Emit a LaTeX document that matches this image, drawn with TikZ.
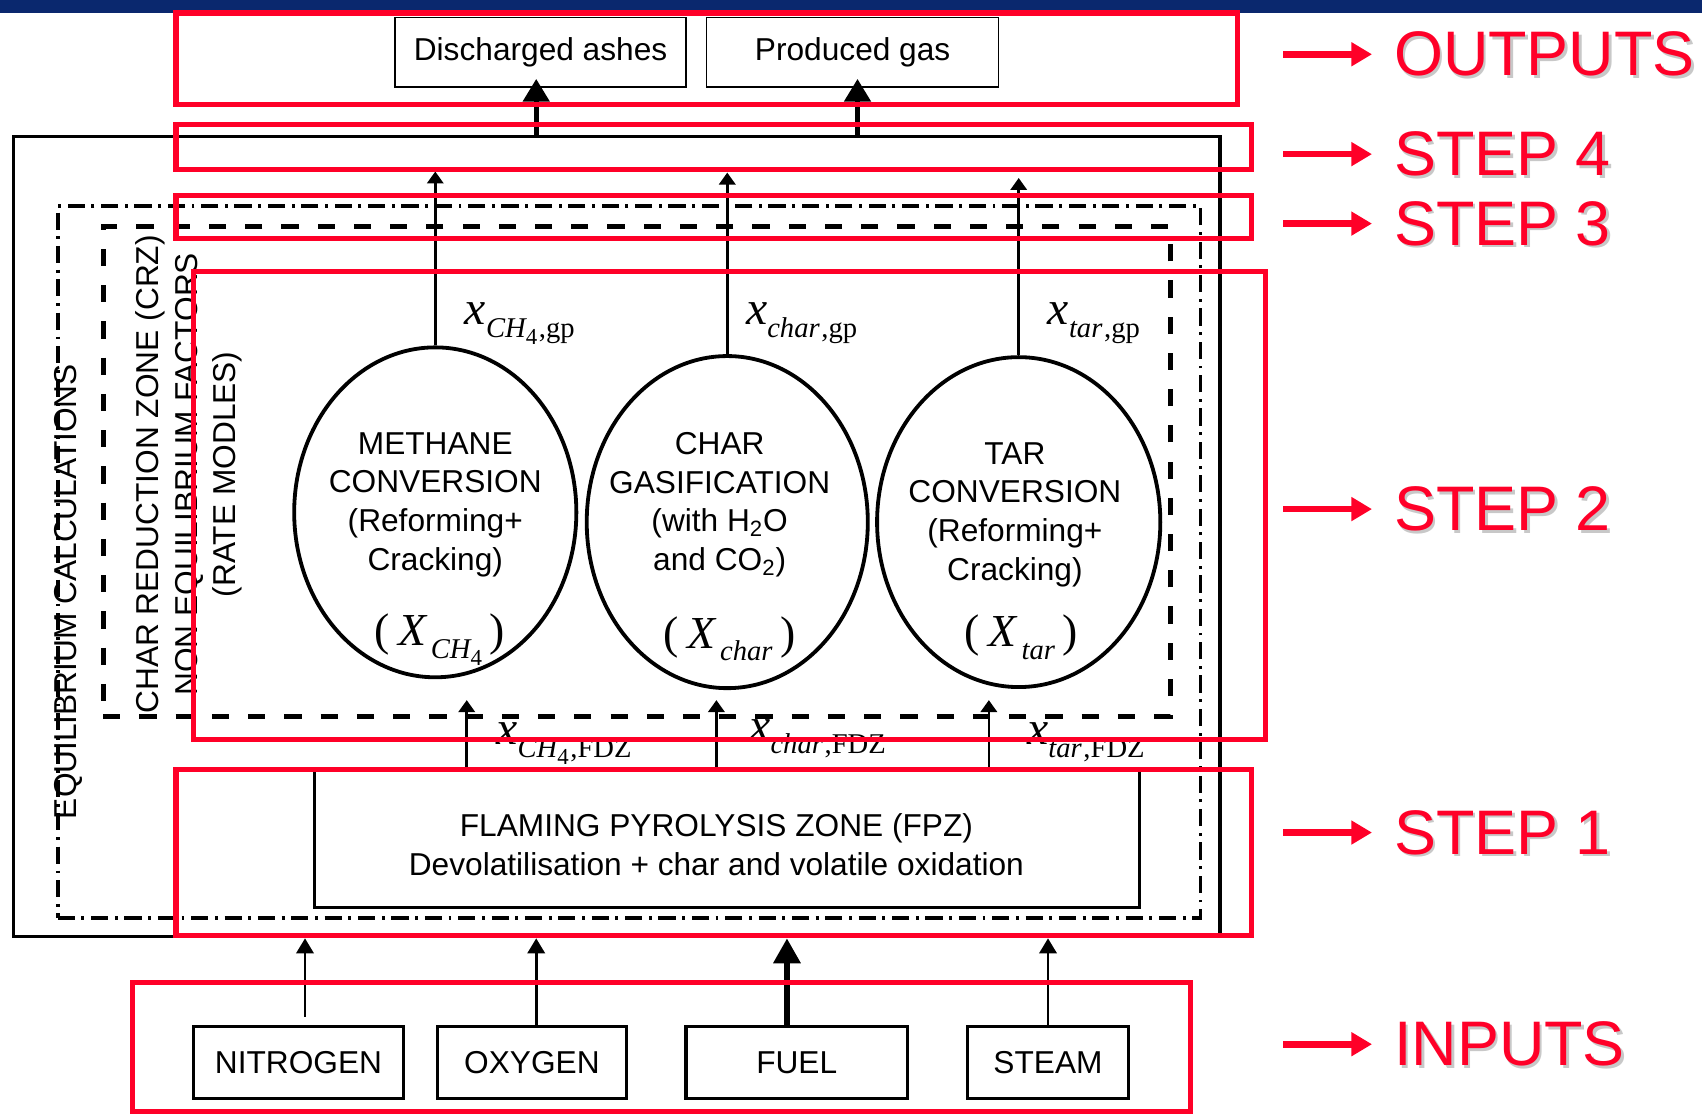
\documentclass[tikz,border=0pt]{standalone}
\usepackage{fontspec}
\setmainfont{Liberation Sans}
\newfontfamily\tms{Liberation Serif}
\usetikzlibrary{arrows.meta}
\usetikzlibrary{shapes.geometric}

\definecolor{slidered}{RGB}{255,0,40}
\definecolor{slidenavy}{RGB}{10,40,110}
\definecolor{shadowgray}{RGB}{200,200,200}

% subscripts of the flow variables (equation editor look)
\newcommand{\flowsub}[1]{\raisebox{-0.23cm}{\fontsize{15}{16}\selectfont #1}}
\newcommand{\subfour}{\raisebox{-0.13cm}{\fontsize{12}{13}\selectfont\upshape 4}}
\newcommand{\flowvar}[2]{{\tms\fontsize{25}{26}\selectfont\textit{x}\flowsub{\textit{#1}\hspace{0.03cm},#2}}}
\newcommand{\convvar}[1]{{\tms\fontsize{24}{25}\selectfont(\hspace{0.16cm}\textit{X}\hspace{0.06cm}\flowsub{\textit{#1}}\hspace{0.14cm})}}

\begin{document}
\begin{tikzpicture}[x=0.02cm, y=-0.02cm,
  txt/.style={font=\fontsize{16.6}{20.3}\selectfont},
  zone/.style={draw, line width=1.7pt, inner sep=0pt},
  reactor/.style={ellipse, draw, line width=2pt, inner sep=0pt},
  inbox/.style={draw, line width=1.7pt, inner sep=0pt, minimum height=1.32cm, txt},
  outbox/.style={draw, line width=0.8pt, inner sep=0pt, minimum height=1.28cm, txt},
  varlbl/.style={anchor=base west, inner sep=0pt},
  thinarr/.style={-{Triangle[length=0.28cm,width=0.32cm]}, line width=1.5pt},
  fatarr/.style={-{Triangle[length=0.46cm,width=0.48cm]}, line width=3.2pt},
  uparr/.style={-{Triangle[length=0.42cm,width=0.48cm]}, line width=2.6pt, shorten >=-0.16cm},
  flowarr/.style={-{Triangle[length=0.22cm,width=0.3cm]}, line width=1.4pt},
  redframe/.style={draw=slidered, line width=2.8pt},
  steparr/.style={-{Triangle[length=0.38cm,width=0.42cm]}, line width=3.5pt, slidered},
  steplbl/.style={anchor=west, inner xsep=0.4cm, inner ysep=0pt, font=\fontsize{33}{36}\selectfont}]
\useasboundingbox (0,0) rectangle (1568,1027);
\fill[slidenavy] (0,0) rectangle (1568,12);

% products
\node[outbox, minimum width=5.36cm] (ashes) at (498,48) {Discharged ashes};
\node[outbox, minimum width=5.38cm] (gas) at (785.5,48) {Produced gas};

% gasifier zones
\node[zone, minimum width=22.24cm, minimum height=14.74cm] (plant) at (568,494.5) {};
\node[zone, line width=2pt, dash pattern=on 9pt off 3.5pt on 1.5pt off 3.5pt, minimum width=21.06cm, minimum height=13.12cm] (equil) at (579.5,518) {};
\node[zone, line width=2.6pt, dash pattern=on 9pt off 10pt, minimum width=19.66cm, minimum height=9.02cm] (crz) at (586.5,434.5) {};
\node[zone, minimum width=15.2cm, minimum height=2.56cm] (fpz) at (670,772) {};
\node[txt, align=center] (fpztxt) at (660,778) {FLAMING PYROLYSIS ZONE (FPZ)\\Devolatilisation + char and volatile oxidation};

\node[txt, rotate=90] (eqlbl) at (63,545) {EQUILIBRIUM CALCULATIONS};
\node[txt, rotate=90, align=center] (crzlbl) at (174,437) {CHAR REDUCTION ZONE (CRZ)\\NON EQUILIBRIUM FACTORS\\(RATE MODLES)};

% rate models
\node[reactor, minimum width=5.2cm, minimum height=6.08cm] (ch4) at (401,472) {};
\node[reactor, minimum width=5.18cm, minimum height=6.12cm] (char) at (670,481) {};
\node[reactor, minimum width=5.22cm, minimum height=6.08cm] (tar) at (938.5,481) {};
\node[txt, align=center] (ch4txt) at (401,465) {METHANE\\CONVERSION\\(Reforming+\\Cracking)};
\node[txt, align=center] (chartxt) at (663,465) {CHAR\\GASIFICATION\\(with H\textsubscript{2}O\\and CO\textsubscript{2})};
\node[txt, align=center] (tartxt) at (935,474) {TAR\\CONVERSION\\(Reforming+\\Cracking)};
\node[anchor=base, inner sep=0pt] (ch4x) at (405,595) {\convvar{CH\subfour}};
\node[anchor=base, inner sep=0pt] (charx) at (672,597) {\convvar{char}};
\node[anchor=base, inner sep=0pt] (tarx) at (941,596) {\convvar{tar}};

\node[varlbl] (ch4gp) at (428,299) {\flowvar{CH\subfour}{gp}};
\node[varlbl] (chargp) at (687,299) {\flowvar{char}{gp}};
\node[varlbl] (targp) at (965,299) {\flowvar{tar}{gp}};
\node[varlbl] (ch4fdz) at (457,686) {\flowvar{CH\subfour}{FDZ}};
\node[varlbl] (charfdz) at (690,683) {\flowvar{char}{FDZ}};
\node[varlbl] (tarfdz) at (946,686) {\flowvar{tar}{FDZ}};

\coordinate (ch4in) at (430,645);
\coordinate (charin) at (660,645);
\coordinate (tarin) at (911,645);
\coordinate (ch4out) at (401,158);
\coordinate (charout) at (670,159);
\coordinate (tarout) at (938.5,164);

\draw[flowarr] (fpz.north -| ch4in) -- (ch4in);
\draw[flowarr] (fpz.north -| charin) -- (charin);
\draw[flowarr] (fpz.north -| tarin) -- (tarin);
\draw[flowarr] (ch4.north) -- (ch4out);
\draw[flowarr] (char.north) -- (charout);
\draw[flowarr] (tar.north) -- (tarout);

\draw[uparr] ([xshift=-0.08cm]plant.north -| ashes.south) -- ([xshift=-0.08cm]ashes.south);
\draw[uparr] ([xshift=0.09cm]plant.north -| gas.south) -- ([xshift=0.09cm]gas.south);

% feeds
\node[inbox, minimum width=3.88cm] (nitro) at (275,979) {NITROGEN};
\node[inbox, minimum width=3.48cm] (oxy) at (490,979) {OXYGEN};
\node[inbox, minimum width=4.08cm] (fuel) at (734,979) {FUEL};
\node[inbox, minimum width=2.98cm] (steam) at (965.5,979) {STEAM};

\draw[thinarr] ([xshift=0.12cm,yshift=0.16cm]nitro.north) -- ([xshift=0.12cm]nitro.north |- plant.south);
\draw[thinarr] ([xshift=0.08cm]oxy.north) -- ([xshift=0.08cm]oxy.north |- plant.south);
\draw[fatarr] ([xshift=-0.18cm]fuel.north) -- ([xshift=-0.18cm]fuel.north |- plant.south);
\draw[thinarr] (steam.north) -- (steam.north |- plant.south);

% step frames
\draw[redframe] (162,12) rectangle (1140,96);
\draw[redframe] (162,115) rectangle (1153,156);
\draw[redframe] (162,180) rectangle (1153,220);
\draw[redframe] (178,250) rectangle (1166,681);
\draw[redframe] (162,709) rectangle (1153,862);
\draw[redframe] (122,905) rectangle (1097,1024);

\foreach \name/\txt/\y in {outs/OUTPUTS/50, four/STEP 4/142, three/STEP 3/206,
                           two/STEP 2/469, one/STEP 1/767, ins/INPUTS/962}{
  \node[steplbl, text=shadowgray] (\name sh) at (1266.5,\y+2.5) {\txt};
  \node[steplbl, text=slidered] (\name) at (1264,\y) {\txt};
  \coordinate (\name tail) at (1182,\y);
  \draw[steparr] (\name tail) -- (\name.west);
}
\end{tikzpicture}
\end{document}
